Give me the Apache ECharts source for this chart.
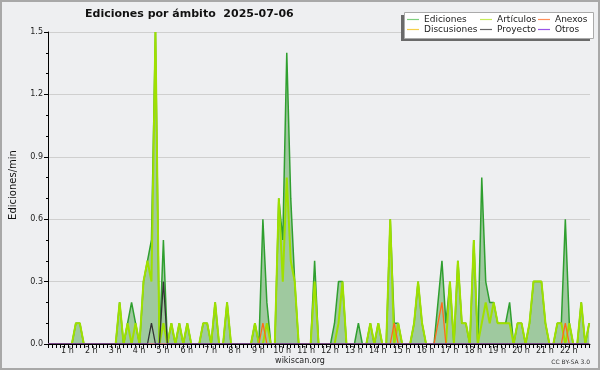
<!DOCTYPE html>
<html><head><meta charset="utf-8">
<script src="https://cdn.jsdelivr.net/npm/echarts@6/dist/echarts.min.js"></script>
<style>html,body{margin:0;padding:0;background:#eeeff1}#c{width:600px;height:370px}</style>
</head><body><div id="c"></div><script>
// 10-minute bins, values in edits per minute
const binMinutes = 10;
const ediciones = [
0,0,0,0,0,0,0,0.1,0.1,0,
0,0,0,0,0,0,0,0,0.2,0,
0.1,0.2,0.1,0,0.3,0.4,0.5,1.5,0,0.5,
0,0.1,0,0.1,0,0.1,0,0,0,0.1,
0.1,0,0.2,0,0,0.2,0,0,0,0,
0,0,0.1,0,0.6,0.2,0,0,0.7,0.5,
1.4,0.7,0.3,0,0,0,0,0.4,0,0,
0,0,0.1,0.3,0.3,0,0,0,0.1,0,
0,0.1,0,0.1,0,0,0.6,0.1,0.1,0,
0,0,0.1,0.3,0.1,0,0,0,0.2,0.4,
0.1,0.3,0,0.4,0.1,0.1,0,0.5,0,0.8,
0.3,0.2,0.2,0.1,0.1,0.1,0.2,0,0.1,0.1,
0,0.1,0.3,0.3,0.3,0.1,0,0,0.1,0.1,
0.6,0.1,0,0,0.2,0,0.1];
const articulos = [
0,0,0,0,0,0,0,0.1,0.1,0,
0,0,0,0,0,0,0,0,0.2,0,
0.1,0,0.1,0,0.3,0.4,0.3,1.5,0,0.1,
0,0.1,0,0.1,0,0.1,0,0,0,0.1,
0.1,0,0.2,0,0,0.2,0,0,0,0,
0,0,0.1,0,0,0.1,0,0,0.7,0.3,
0.8,0.4,0.3,0,0,0,0,0.3,0,0,
0,0,0,0.1,0.3,0,0,0,0,0,
0,0.1,0,0.1,0,0,0.6,0,0.1,0,
0,0,0.1,0.3,0.1,0,0,0,0,0,
0,0.3,0,0.4,0.1,0.1,0,0.5,0,0.1,
0.2,0.1,0.2,0.1,0.1,0.1,0.1,0,0.1,0.1,
0,0.1,0.3,0.3,0.3,0.1,0,0,0.1,0.1,
0,0.1,0,0,0.2,0,0.1];
const anexos = [
0,0,0,0,0,0,0,0,0,0,
0,0,0,0,0,0,0,0,0,0,
0,0,0,0,0,0,0,0,0,0,
0,0,0,0,0,0,0,0,0,0,
0,0,0,0,0,0,0,0,0,0,
0,0,0,0,0.1,0,0,0,0,0,
0,0,0,0,0,0,0,0,0,0,
0,0,0,0,0,0,0,0,0,0,
0,0,0,0,0,0,0,0.1,0,0,
0,0,0,0,0,0,0,0,0.1,0.2,
0,0,0,0,0,0,0,0,0,0,
0,0,0,0,0,0,0,0,0,0,
0,0,0,0,0,0,0,0,0,0,
0.1,0,0,0,0,0,0];
const discusiones = [
0,0,0,0,0,0,0,0,0,0,
0,0,0,0,0,0,0,0,0,0,
0,0,0,0,0,0,0,0,0,0,
0,0,0,0,0,0,0,0,0,0,
0,0,0,0,0,0,0,0,0,0,
0,0,0,0,0,0,0,0,0,0,
0,0,0,0,0,0,0,0,0,0,
0,0,0,0,0,0,0,0,0,0,
0,0,0,0,0,0,0,0,0,0,
0,0,0,0,0,0,0,0,0,0,
0,0,0,0,0,0,0,0,0,0,
0,0,0,0,0,0,0,0,0,0,
0,0,0,0,0,0,0,0,0,0,
0,0,0,0,0,0,0];
const proyecto = [
0,0,0,0,0,0,0,0,0,0,
0,0,0,0,0,0,0,0,0,0,
0,0,0,0,0,0,0.1,0,0,0.3,
0,0,0,0,0,0,0,0,0,0,
0,0,0,0,0,0,0,0,0,0,
0,0,0,0,0,0,0,0,0,0,
0,0,0,0,0,0,0,0,0,0,
0,0,0,0,0,0,0,0,0,0,
0,0,0,0,0,0,0,0,0,0,
0,0,0,0,0,0,0,0,0,0,
0,0,0,0,0,0,0,0,0,0,
0,0,0,0,0,0,0,0,0,0,
0,0,0,0,0,0,0,0,0,0,
0,0,0,0,0,0,0];
const otros = discusiones.slice();
const seriesNames = ['Ediciones','Artículos','Anexos','Discusiones','Proyecto','Otros'];
const titleText = 'Ediciones por ámbito  2025-07-06';
const axisEndMinutes = 1362;
const hourTicks = [1,2,3,4,5,6,7,8,9,10,11,12,13,14,15,16,17,18,19,20,21,22];

const F = 'DejaVu Sans';
const toPairs = arr => arr.map((v,i)=>[i*binMinutes, v]);
const minorTickValues = [];
for (let m = 0; m <= axisEndMinutes; m += binMinutes) minorTickValues.push(m);
const hourLabelValues = hourTicks.map(h => h*60);

function lineSeries(name, arr, color, width, extra){
  return Object.assign({
    name, type:'line', data: toPairs(arr), symbol:'none', animation:false,
    lineStyle:{color, width}, itemStyle:{color}
  }, extra||{});
}
const legendColors = {'Ediciones':'#7fcf7f','Artículos':'#c6ec5a','Anexos':'#ff8f5a',
  'Discusiones':'#f5cf4a','Proyecto':'#666666','Otros':'#9a55e8'};
const legendItem = n => ({name:n, itemStyle:{color:legendColors[n]}});
const legendCommon = {orient:'vertical', top:15, padding:0, icon:'rect',
  itemWidth:12, itemHeight:1.2, itemGap:1,
  textStyle:{fontFamily:F, fontSize:9, color:'#222', lineHeight:9}};
const chart = echarts.init(document.getElementById('c'), null, {renderer:'canvas'});
chart.setOption({
  backgroundColor:'#eeeff1',
  animation:false,
  title:{text:titleText, left:85, top:9, padding:0,
    textStyle:{fontFamily:F, fontSize:11, fontWeight:'bold', color:'#111'}},
  grid:{left:46.5, top:32, width:543.5, height:312, containLabel:false},
  xAxis:{type:'value', min:0, max:axisEndMinutes, z:5,
    axisLine:{lineStyle:{color:'#000', width:1}},
    axisTick:{length:4, customValues:minorTickValues, lineStyle:{color:'#000'}},
    splitLine:{show:false},
    axisLabel:{fontFamily:F, fontSize:8, color:'#222', margin:3, padding:[0,9,0,0],
      customValues:hourLabelValues, formatter:v => (v/60)+' h'}},
  yAxis:{type:'value', min:0, max:1.5, interval:0.3,
    name:'Ediciones/min', nameLocation:'middle', nameGap:30, nameRotate:90,
    nameTextStyle:{fontFamily:F, fontSize:10, color:'#111', padding:[0,0,0,6]},
    axisLine:{show:true, lineStyle:{color:'#000'}},
    axisTick:{show:true, length:4, lineStyle:{color:'#000'}},
    minorTick:{show:true, splitNumber:3, length:2, lineStyle:{color:'#000'}},
    splitLine:{show:true, lineStyle:{color:'#cfcfcf', width:1}},
    axisLabel:{fontFamily:F, fontSize:8, color:'#222', margin:5, formatter:v=>v.toFixed(1)}},
  legend:[
    Object.assign({data:['Ediciones','Discusiones'].map(legendItem), left:407}, legendCommon),
    Object.assign({data:['Artículos','Proyecto'].map(legendItem), left:480}, legendCommon),
    Object.assign({data:['Anexos','Otros'].map(legendItem), left:538}, legendCommon)
  ],
  graphic:[
    {type:'rect', shape:{x:1,y:1,width:598,height:368}, style:{fill:null, stroke:'#a8a8a8', lineWidth:2}, z:1},
    {type:'rect', shape:{x:401,y:15,width:189,height:26}, style:{fill:'#6a6a6a'}, z:3},
    {type:'rect', shape:{x:404.5,y:12.5,width:189,height:26}, style:{fill:'#fff', stroke:'#aaa', lineWidth:1}, z:3},
    {type:'text', x:300, y:361, style:{text:'wikiscan.org', fontFamily:F, fontSize:8, fill:'#222', align:'center', verticalAlign:'middle'}, z:3},
    {type:'text', x:590, y:362, style:{text:'CC BY-SA 3.0', fontFamily:F, fontSize:6, fill:'#333', align:'right', verticalAlign:'middle'}, z:3}
  ],
  series:[
    lineSeries(seriesNames[0], ediciones, '#2f9f2f', 1.5, {areaStyle:{color:'#9fc99f', opacity:1}}),
    lineSeries(seriesNames[1], articulos, '#9fe000', 2),
    lineSeries(seriesNames[2], anexos, '#ff6a1a', 1.3),
    lineSeries(seriesNames[3], discusiones, '#f0c419', 1),
    lineSeries(seriesNames[4], proyecto, '#333333', 1.3),
    lineSeries(seriesNames[5], otros, '#9040e0', 1)
  ]
});
</script></body></html>
